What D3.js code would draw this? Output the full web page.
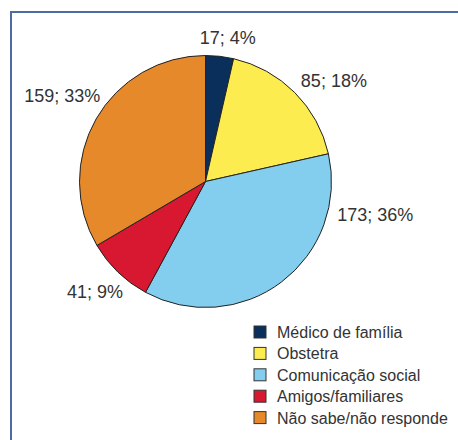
<!DOCTYPE html>
<html>
<head>
<meta charset="utf-8">
<script src="https://cdn.jsdelivr.net/npm/d3@7"></script>
<style>
  body { margin: 0; background: #fff; }
  svg { display: block; }
</style>
</head>
<body>
<div class="view"></div>
<script>
const w = 458
const h = 440

// dados
const categories = ['Médico de família', 'Obstetra', 'Comunicação social', 'Amigos/familiares', 'Não sabe/não responde']
const counts = [17, 85, 173, 41, 159]
const percents = [4, 18, 36, 9, 33]
const colors = ['#0b2f5b', '#fdec4f', '#83cdef', '#d71830', '#e5892a']

const cx = 205.5
const cy = 181.5
const r = 126

const svg = d3.select('.view')
  .append('svg')
  .attr('width', w)
  .attr('height', h)

// moldura (só topo e esquerda ficam visíveis)
svg.append('path')
  .attr('d', 'M11,' + h + ' V12 H' + w)
  .attr('fill', 'none')
  .attr('stroke', '#4d6ca3')
  .attr('stroke-width', 2)

const pie = d3.pie().sort(null).value((d) => d)
const arcs = pie(counts)

const arc = d3.arc().innerRadius(0).outerRadius(r)

const g = svg.append('g')
  .attr('transform', 'translate(' + cx + ',' + cy + ')')

g.selectAll('path')
  .data(arcs)
  .enter()
  .append('path')
  .attr('d', arc)
  .attr('fill', (d, i) => colors[i])
  .attr('stroke', '#222')
  .attr('stroke-width', 1)

// rótulos: raio e ajuste de ângulo por fatia
const labelRadius = [146, 163, 173, 156, 167]
const angleShift = [0.04, 0.12, -0.73, 0.02, 0.02]

g.selectAll('text')
  .data(arcs)
  .enter()
  .append('text')
  .attr('x', (d, i) => labelRadius[i] * Math.sin((d.startAngle + d.endAngle) / 2 + angleShift[i]))
  .attr('y', (d, i) => -labelRadius[i] * Math.cos((d.startAngle + d.endAngle) / 2 + angleShift[i]))
  .attr('dy', '0.35em')
  .attr('text-anchor', 'middle')
  .attr('font-family', 'Liberation Sans, Arial, sans-serif')
  .attr('font-size', 18)
  .attr('fill', '#333')
  .text((d, i) => counts[i] + '; ' + percents[i] + '%')

// legenda
const legend = svg.append('g')
  .attr('transform', 'translate(254,326)')

const rows = legend.selectAll('g')
  .data(categories)
  .enter()
  .append('g')
  .attr('transform', (d, i) => 'translate(0,' + (i * 21.4) + ')')

rows.append('rect')
  .attr('width', 12)
  .attr('height', 12)
  .attr('fill', (d, i) => colors[i])
  .attr('stroke', '#333')
  .attr('stroke-width', 1)

rows.append('text')
  .attr('x', 23)
  .attr('y', 12)
  .attr('font-family', 'Liberation Sans, Arial, sans-serif')
  .attr('font-size', 16)
  .attr('fill', '#333')
  .text((d) => d)
</script>
</body>
</html>
